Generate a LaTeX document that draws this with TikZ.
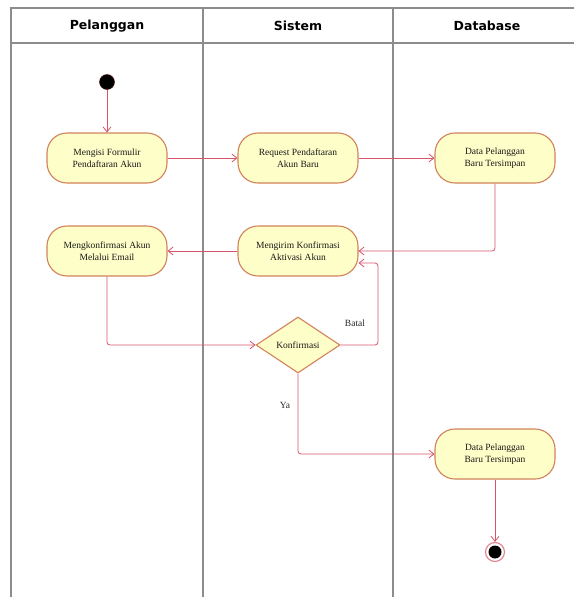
\documentclass[tikz,border=0pt]{standalone}
\usepackage{fontspec}
\setmainfont{Liberation Serif}
\newfontfamily\headfont{DejaVu Sans}
\usetikzlibrary{arrows.meta,shapes.geometric}
\definecolor{actfill}{RGB}{254,254,200}
\definecolor{actborder}{RGB}{210,130,90}
\definecolor{flow}{RGB}{215,85,105}
\definecolor{lane}{RGB}{140,140,140}
\begin{document}
\begin{tikzpicture}[x=1pt,y=-1pt,
  act/.style={draw=actborder,fill=actfill,line width=1.1pt,rounded corners=20pt,
    minimum width=120pt,minimum height=50pt,align=center,font=\fontsize{9.5}{11.5}\selectfont,text=black!90},
  dec/.style={diamond,draw=actborder,fill=actfill,line width=1.1pt,aspect=1.5,
    minimum width=84pt,minimum height=56pt,inner sep=0pt,font=\fontsize{9.5}{11.5}\selectfont,text=black!90},
  flowline/.style={draw=flow,line width=0.8pt,-{Straight Barb[length=5pt,width=8pt]},rounded corners=3pt},
  lanehead/.style={font=\headfont\bfseries\fontsize{12.5}{14}\selectfont,text=black},
  lanestroke/.style={draw=lane,line width=1.2pt},
  lbl/.style={font=\fontsize{9.5}{11.5}\selectfont,text=black!85}]
\useasboundingbox (0,0) rectangle (574,597);
% swimlanes
\draw[lanestroke] (574,8) -- (11,8) -- (11,597);
\draw[lanestroke] (11,43) -- (574,43);
\draw[lanestroke] (203,8) -- (203,597);
\draw[lanestroke] (393,8) -- (393,597);
\node[lanehead] (h1) at (107,26) {Pelanggan};
\node[lanehead] (h2) at (298,26) {Sistem};
\node[lanehead] (h3) at (487,26) {Database};
% nodes
\node[circle,fill=black,draw=black!70!red,minimum size=15pt,inner sep=0pt] (start) at (107,82) {};
\node[act] (a) at (107,158) {Mengisi Formulir\\Pendaftaran Akun};
\node[act] (b) at (298,158) {Request Pendaftaran\\Akun Baru};
\node[act] (c) at (495,158) {Data Pelanggan\\Baru Tersimpan};
\node[act] (d) at (107,251) {Mengkonfirmasi Akun\\Melalui Email};
\node[act] (e) at (298,251) {Mengirim Konfirmasi\\Aktivasi Akun};
\node[dec] (k) at (298,345) {Konfirmasi};
\node[act] (f) at (495,454) {Data Pelanggan\\Baru Tersimpan};
\node[circle,draw=flow!70,line width=1.2pt,fill=white,minimum size=19pt,inner sep=0pt] (end) at (495,552) {};
\node[circle,fill=black,minimum size=13pt,inner sep=0pt] (endin) at (end) {};
% flows
\draw[flowline] (start) -- (a);
\draw[flowline] (a) -- (b);
\draw[flowline] (b) -- (c);
\draw[flowline] (c.south) |- (e.east);
\draw[flowline] (e) -- (d);
\draw[flowline] (d.south) |- (k.west);
\draw[flowline] (k.east) -- (378,345) -- (378,263) -- (e.east |- 0,263);
\draw[flowline] (k.south) |- (f.west);
\draw[flowline] (f) -- (end);
\node[lbl] (batal) at (355,323) {Batal};
\node[lbl] (ya) at (285,405) {Ya};
\end{tikzpicture}
\end{document}
